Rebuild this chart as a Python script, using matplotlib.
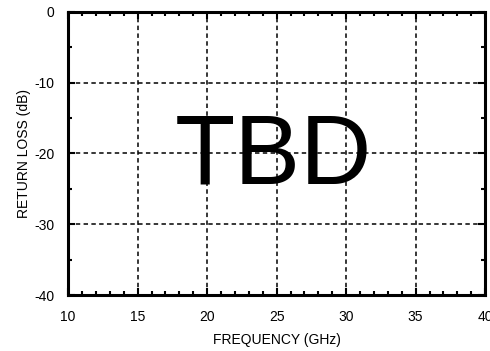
import matplotlib
matplotlib.use("Agg")
import matplotlib.pyplot as plt
from matplotlib.ticker import MultipleLocator

plt.rcParams['font.family'] = ['Liberation Sans', 'DejaVu Sans']

x_ticks = [10, 15, 20, 25, 30, 35, 40]
y_ticks = [0, -10, -20, -30, -40]
x_label = "FREQUENCY (GHz)"
y_label = "RETURN LOSS (dB)"
placeholder = "TBD"

fig = plt.figure(figsize=(4.9, 3.51), dpi=100)
ax = fig.add_axes([0.139, 0.1595, 0.851, 0.8065])
ax.set_xlim(10, 40)
ax.set_ylim(-40, 0)
ax.set_xticks(x_ticks)
ax.set_yticks(y_ticks)
ax.set_xticklabels([str(v) for v in x_ticks])
ax.set_yticklabels([str(v) for v in y_ticks])
ax.xaxis.set_minor_locator(MultipleLocator(1))
ax.yaxis.set_minor_locator(MultipleLocator(5))
ax.tick_params(which='both', direction='in', top=True, right=True, width=1.5, labelsize=10)
ax.tick_params(axis='x', pad=11)
ax.tick_params(axis='y', pad=10)
ax.tick_params(which='major', length=5)
ax.tick_params(which='minor', length=3)
for s in ax.spines.values():
    s.set_linewidth(2.2)
ax.grid(True, which='major', color='black', linestyle=(0, (2.9, 2.2)), linewidth=1.1)
ax.set_axisbelow(True)
ax.set_xlabel(x_label, fontsize=10, labelpad=6)
ax.set_ylabel(y_label, fontsize=10, labelpad=2)
ax.text(24.8, -24.3, placeholder, fontsize=71, ha='center', va='baseline')
fig.savefig("out.png", dpi=100)
